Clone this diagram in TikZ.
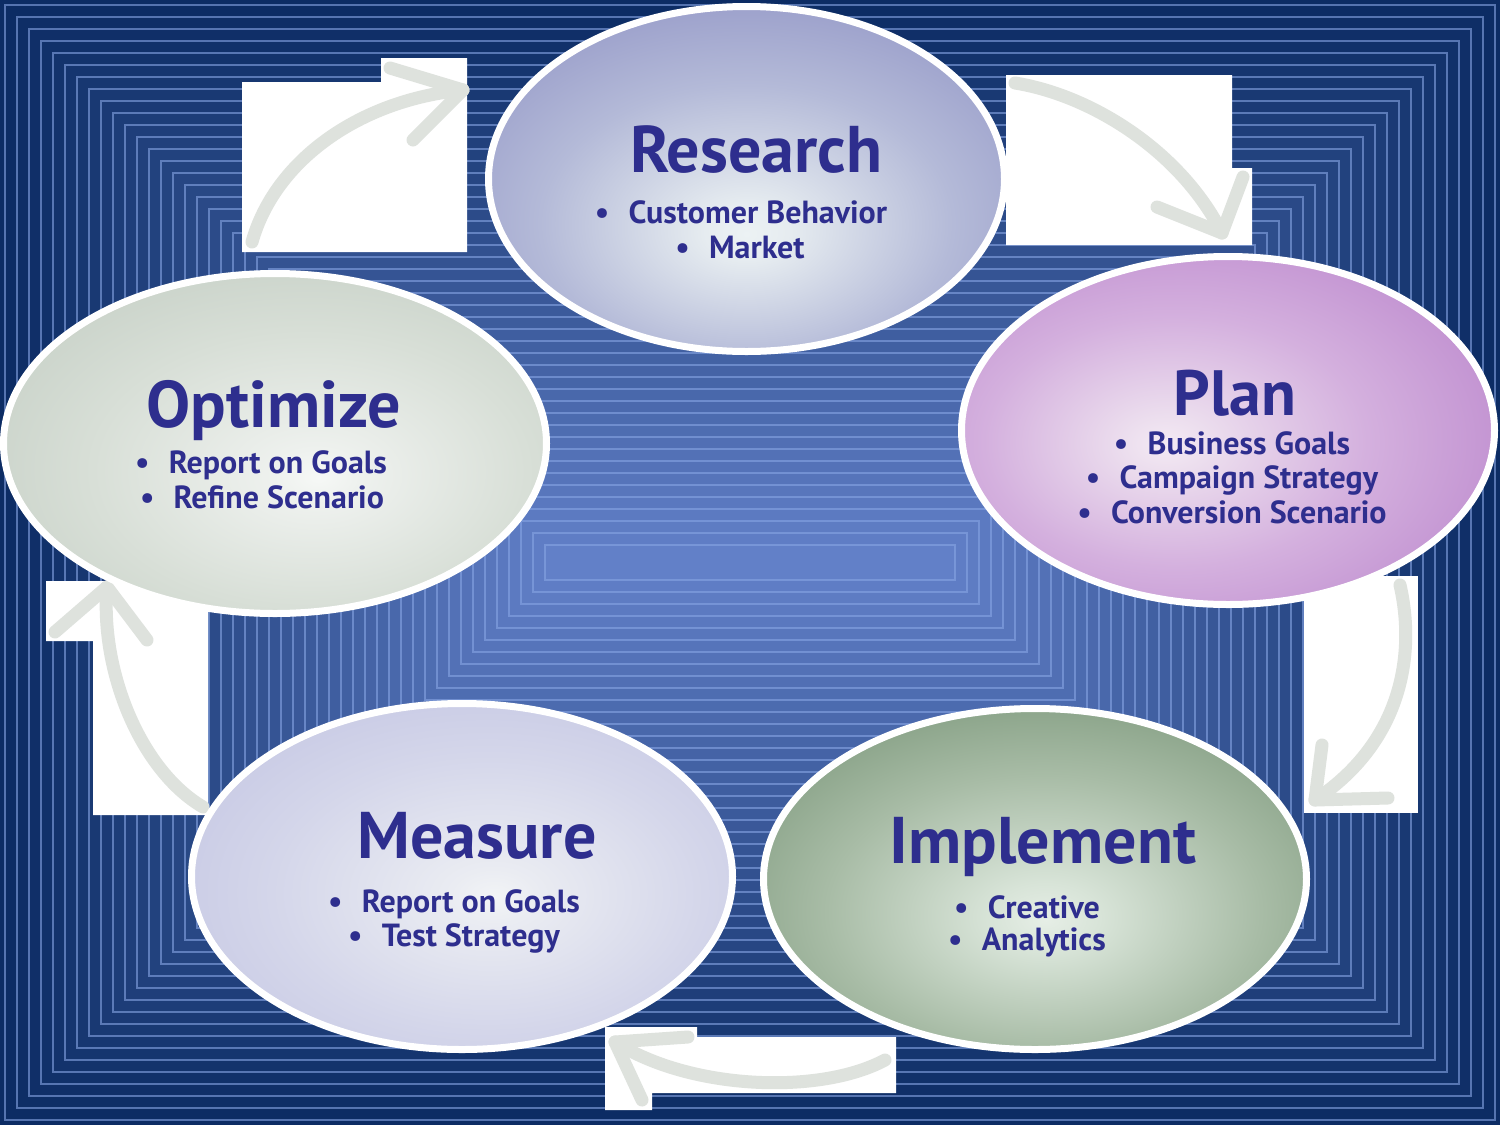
\documentclass[tikz,border=0pt]{standalone}
\usepackage{fontspec}
\setmainfont{PT Sans}
\usetikzlibrary{shapes.geometric}
\definecolor{bgout}{RGB}{12,44,100}
\definecolor{bgin}{RGB}{98,128,200}
\definecolor{linec}{RGB}{135,165,228}
\definecolor{txt}{RGB}{46,46,142}
\definecolor{arrowc}{RGB}{222,226,221}
\pgfdeclareradialshading{shresearch}{\pgfpoint{0bp}{-8bp}}{color(0bp)=(rgb,255:red,236;green,242;blue,244); color(4bp)=(rgb,255:red,230;green,236;blue,240); color(20bp)=(rgb,255:red,180;green,186;blue,216); color(34bp)=(rgb,255:red,150;green,154;blue,200); color(100bp)=(rgb,255:red,150;green,154;blue,200)}
\pgfdeclareradialshading{shplan}{\pgfpoint{-6bp}{-2bp}}{color(0bp)=(rgb,255:red,244;green,234;blue,244); color(4bp)=(rgb,255:red,236;green,222;blue,238); color(18bp)=(rgb,255:red,212;green,176;blue,222); color(32bp)=(rgb,255:red,192;green,143;blue,208); color(100bp)=(rgb,255:red,192;green,143;blue,208)}
\pgfdeclareradialshading{shoptimize}{\pgfpoint{4bp}{-5bp}}{color(0bp)=(rgb,255:red,246;green,248;blue,246); color(4bp)=(rgb,255:red,238;green,241;blue,238); color(20bp)=(rgb,255:red,216;green,223;blue,215); color(36bp)=(rgb,255:red,196;green,206;blue,196); color(100bp)=(rgb,255:red,196;green,206;blue,196)}
\pgfdeclareradialshading{shmeasure}{\pgfpoint{3bp}{-3bp}}{color(0bp)=(rgb,255:red,242;green,244;blue,246); color(4bp)=(rgb,255:red,234;green,236;blue,242); color(20bp)=(rgb,255:red,212;green,214;blue,234); color(36bp)=(rgb,255:red,194;green,196;blue,226); color(100bp)=(rgb,255:red,194;green,196;blue,226)}
\pgfdeclareradialshading{shimplement}{\pgfpoint{1bp}{-6bp}}{color(0bp)=(rgb,255:red,230;green,238;blue,230); color(5bp)=(rgb,255:red,216;green,228;blue,216); color(20bp)=(rgb,255:red,168;green,188;blue,166); color(34bp)=(rgb,255:red,127;green,154;blue,126); color(100bp)=(rgb,255:red,127;green,154;blue,126)}
\tikzset{
  phase/.style={ellipse, draw=white, line width=7pt, inner sep=0pt},
  ttl/.style={text=txt, font=\fontsize{66}{74}\selectfont\bfseries, anchor=base, inner sep=0pt},
  itm/.style={text=txt, font=\fontsize{32}{36}\selectfont\bfseries, anchor=base, inner sep=0pt},
  wbox/.style={fill=white},
  curvearrow/.style={draw=arrowc, line width=13pt, line cap=round, line join=round}
}
\begin{document}
\begin{tikzpicture}[x=1pt,y=-1pt]
\useasboundingbox (0,0) rectangle (1500,1125);
% background
\fill[bgout] (0,0) rectangle (1500,1125);
\foreach \i in {0,...,45}{
  \pgfmathtruncatemacro\p{100*\i/45}
  \pgfmathsetmacro\d{5+\i*12}
  \pgfmathsetmacro\r{1495-\i*12}
  \pgfmathsetmacro\b{1120-\i*12}
  \fill[bgin!\p!bgout] (\d,\d) rectangle (\r,\b);
  \draw[linec, draw opacity=0.6, line width=1.2pt] (\d,\d) rectangle (\r,\b);
}
% white boxes
\fill[wbox] (242,82) -- (381,82) -- (381,58) -- (467,58) -- (467,252) -- (242,252) -- cycle;
\fill[wbox] (1006,75) -- (1232,75) -- (1232,168) -- (1252,168) -- (1252,245) -- (1006,245) -- cycle;
\fill[wbox] (1304,576) rectangle (1418,813);
\fill[wbox] (605,1027) -- (697,1027) -- (697,1037) -- (896,1037) -- (896,1093) -- (652,1093) -- (652,1110) -- (605,1110) -- cycle;
\fill[wbox] (46,581) -- (208,581) -- (208,815) -- (93,815) -- (93,641) -- (46,641) -- cycle;
% arrow coordinates
\coordinate (a1s) at (252,242); \coordinate (a1c) at (275,160); \coordinate (a1d) at (360,100); \coordinate (a1e) at (463,90);
\coordinate (a1l) at (390,68); \coordinate (a1r) at (413,140);
\coordinate (a2s) at (1015,83); \coordinate (a2c) at (1090,95); \coordinate (a2d) at (1180,150); \coordinate (a2e) at (1222,233);
\coordinate (a2l) at (1157,207); \coordinate (a2r) at (1243,177);
\coordinate (a3s) at (1400,585); \coordinate (a3c) at (1415,650); \coordinate (a3d) at (1405,740); \coordinate (a3e) at (1315,800);
\coordinate (a3l) at (1322,745); \coordinate (a3r) at (1388,798);
\coordinate (a4s) at (885,1060); \coordinate (a4c) at (820,1095); \coordinate (a4d) at (690,1090); \coordinate (a4e) at (615,1042);
\coordinate (a4l) at (688,1037); \coordinate (a4r) at (642,1100);
\coordinate (a5s) at (203,807); \coordinate (a5c) at (140,770); \coordinate (a5d) at (100,670); \coordinate (a5e) at (107,587);
\coordinate (a5l) at (55,632); \coordinate (a5r) at (147,640);
\foreach \k in {1,...,5}{
  \draw[curvearrow] (a\k s) .. controls (a\k c) and (a\k d) .. (a\k e);
  \draw[curvearrow] (a\k l) -- (a\k e) -- (a\k r);
}
% phases
\node[phase, shading=shresearch, minimum width=516pt, minimum height=345pt] (research) at (746.5,179) {};
\node[phase, shading=shplan, minimum width=533pt, minimum height=348pt] (plan) at (1228,430.5) {};
\node[phase, shading=shoptimize, minimum width=543pt, minimum height=340pt] (optimize) at (275,443.5) {};
\node[phase, shading=shmeasure, minimum width=541pt, minimum height=346pt] (measure) at (462,876.5) {};
\node[phase, shading=shimplement, minimum width=543pt, minimum height=341pt] (implement) at (1035,879) {};
% texts
\node[ttl] (researchT) at (756,172) {Research};
\node[itm] (research1) at (741,223) {•\hspace{0.6em}Customer Behavior};
\node[itm] (research2) at (740,258) {•\hspace{0.6em}Market};
\node[ttl, font=\fontsize{64}{72}\selectfont\bfseries] (planT) at (1235,415) {Plan};
\node[itm] (plan1) at (1232,454) {•\hspace{0.6em}Business Goals};
\node[itm] (plan2) at (1232,488.5) {•\hspace{0.6em}Campaign Strategy};
\node[itm] (plan3) at (1232,523) {•\hspace{0.6em}Conversion Scenario};
\node[ttl] (optimizeT) at (274,427) {Optimize};
\node[itm] (optimize1) at (261,473) {•\hspace{0.6em}Report on Goals};
\node[itm] (optimize2) at (262,508) {•\hspace{0.6em}Refine Scenario};
\node[ttl] (measureT) at (477,858) {Measure};
\node[itm] (measure1) at (454,912) {•\hspace{0.6em}Report on Goals};
\node[itm] (measure2) at (454,946) {•\hspace{0.6em}Test Strategy};
\node[ttl] (implementT) at (1043,863) {Implement};
\node[itm] (implement1) at (1027,918) {•\hspace{0.6em}Creative};
\node[itm] (implement2) at (1027,950) {•\hspace{0.6em}Analytics};
\end{tikzpicture}
\end{document}
